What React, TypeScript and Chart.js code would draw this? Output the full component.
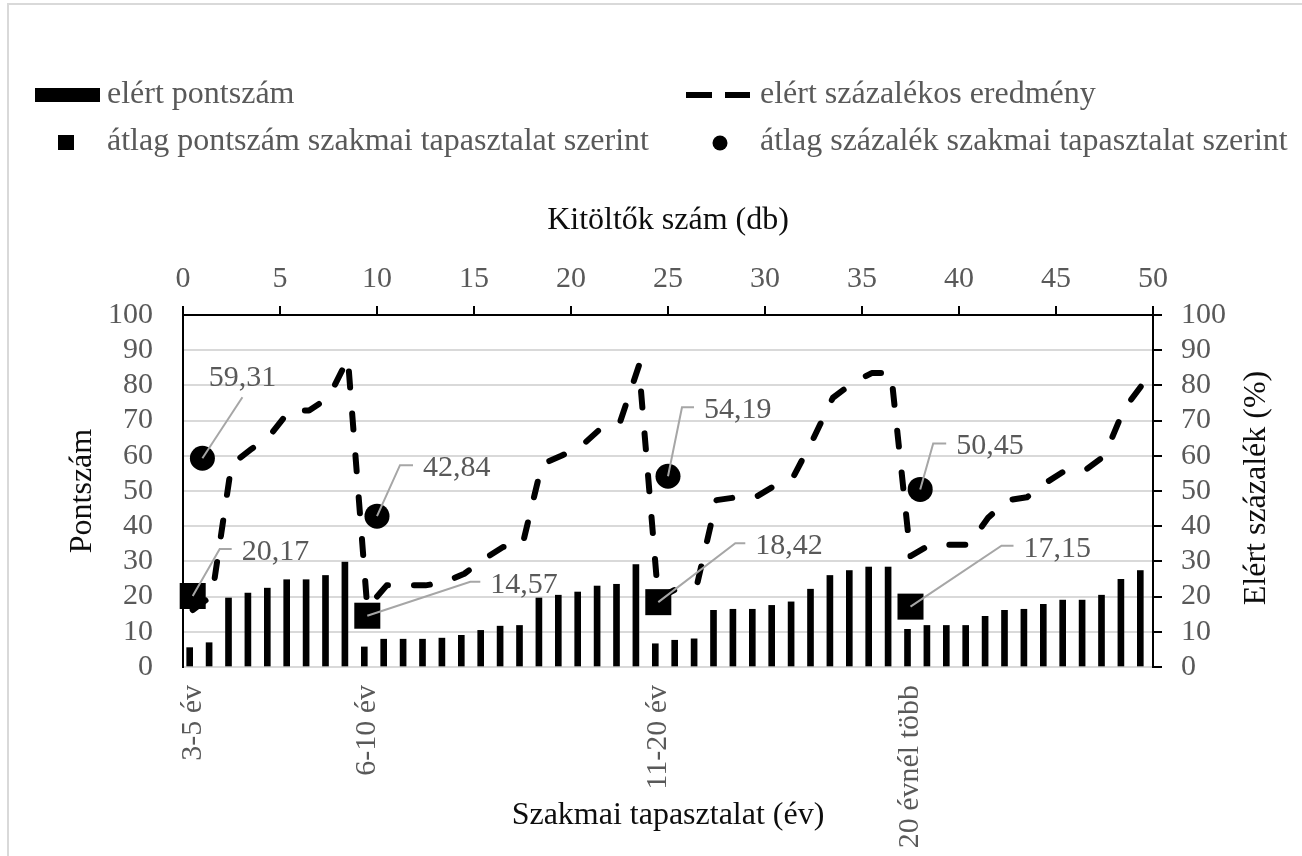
import React, { useEffect, useRef } from 'react';
import { Chart, registerables } from 'chart.js';

Chart.register(...registerables);

// ---------- data ----------
const groupLabels = ['3-5 év', '6-10 év', '11-20 év', '20 évnél több'];
const groupSizes = [9, 15, 13, 13];

// elért pontszám (one bar per respondent)
const points = [
  5.5, 6.9, 19.6, 21.0, 22.4, 24.8, 24.8, 26.0, 29.8,
  5.7, 7.9, 7.9, 7.9, 8.2, 9.0, 10.4, 11.6, 11.8, 19.6, 20.4, 21.3, 23.0, 23.5, 29.1,
  6.6, 7.6, 8.0, 16.1, 16.4, 16.4, 17.5, 18.5, 22.1, 26.0, 27.4, 28.4, 28.4,
  10.7, 11.8, 11.8, 11.8, 14.4, 16.1, 16.4, 17.8, 19.0, 19.0, 20.4, 24.9, 27.4,
];

// elért százalékos eredmény (%)
const percents = [
  16.2, 20.3, 57.6, 61.8, 65.9, 72.9, 72.9, 76.5, 87.6,
  16.8, 23.2, 23.2, 23.2, 24.1, 26.5, 30.6, 34.1, 34.7, 57.6, 60.0, 62.6, 67.6, 69.1, 85.6,
  19.4, 22.4, 23.5, 47.4, 48.2, 48.2, 51.5, 54.4, 65.0, 76.5, 80.6, 83.5, 83.5,
  31.5, 34.7, 34.7, 34.7, 42.4, 47.4, 48.2, 52.4, 55.9, 55.9, 60.0, 73.2, 80.6,
];

const avgPoints = [20.17, 14.57, 18.42, 17.15];
const avgPercents = [59.31, 42.84, 54.19, 50.45];
const avgPercentCount = [1, 10, 25, 38];

const legendLabels = [
  'elért pontszám',
  'elért százalékos eredmény',
  'átlag pontszám szakmai tapasztalat szerint',
  'átlag százalék szakmai tapasztalat szerint',
];
const rightAxisTitle = 'Elért százalék (%)';

// ---------- derived ----------
const categories: string[] = [];
const groupStarts: number[] = [];
groupLabels.forEach((g, i) => {
  groupStarts.push(categories.length);
  for (let k = 0; k < groupSizes[i]; k++) categories.push(k === 0 ? g : '');
});
const avgPointsSeries: (number | null)[] = categories.map(() => null);
groupStarts.forEach((s, i) => { avgPointsSeries[s] = avgPoints[i]; });
const avgPercentSeries = avgPercentCount.map((c, i) => ({ x: c, y: avgPercents[i] }));

// ---------- styles ----------
const FONT = 'Liberation Serif';
const GRAY_TEXT = '#595959';
const TITLE = '#0d0d0d';

// label leader offsets (pixels, relative to marker centre)
const circleLabelPos = [
  { ex: 40, ey: -61, h: 0, center: true, ty: -72 },
  { ex: 23, ey: -51, h: 13 },
  { ex: 14, ey: -69, h: 12 },
  { ex: 13, ey: -46, h: 13 },
];
const squareLabelPos = [
  { ex: 27, ey: -47, h: 12 },
  { ex: 103, ey: -34, h: 10 },
  { ex: 77, ey: -59, h: 10 },
  { ex: 91, ey: -61, h: 12 },
];

const fmt = (v: number) => v.toFixed(2).replace('.', ',');

const decorPlugin = {
  id: 'decor',
  beforeDraw(chart: any) {
    const ctx = chart.ctx;
    ctx.save();
    ctx.strokeStyle = '#d9d9d9';
    ctx.lineWidth = 2;
    ctx.strokeRect(8, 4, 1400, 900);
    ctx.restore();
  },
  afterDatasetsDraw(chart: any) {
    const ctx = chart.ctx;
    ctx.save();
    ctx.strokeStyle = '#a6a6a6';
    ctx.lineWidth = 2;
    ctx.fillStyle = GRAY_TEXT;
    ctx.font = `30px "${FONT}"`;
    ctx.textBaseline = 'alphabetic';
    const drawLabel = (px: number, py: number, pos: any, text: string) => {
      const ex = px + pos.ex;
      const ey = py + pos.ey;
      ctx.beginPath();
      ctx.moveTo(px, py);
      ctx.lineTo(ex, ey);
      if (pos.h) ctx.lineTo(ex + pos.h, ey);
      ctx.stroke();
      if (pos.center) {
        ctx.textAlign = 'center';
        ctx.fillText(text, ex, py + pos.ty);
      } else {
        ctx.textAlign = 'left';
        ctx.fillText(text, ex + pos.h + 10, ey + 11);
      }
    };
    const circMeta = chart.getDatasetMeta(3);
    circMeta.data.forEach((el: any, i: number) => {
      drawLabel(el.x, el.y, circleLabelPos[i], fmt(avgPercents[i]));
    });
    const sqMeta = chart.getDatasetMeta(2);
    groupStarts.forEach((s, i) => {
      const el = sqMeta.data[s];
      drawLabel(el.x, el.y, squareLabelPos[i], fmt(avgPoints[i]));
    });
    ctx.restore();
  },
  afterDraw(chart: any) {
    const ctx = chart.ctx;
    ctx.save();
    ctx.fillStyle = '#000';
    // bar sample
    ctx.fillRect(35, 88, 65, 14);
    // dashed line sample
    ctx.strokeStyle = '#000';
    ctx.lineWidth = 6;
    ctx.beginPath();
    ctx.moveTo(686, 95); ctx.lineTo(712, 95);
    ctx.moveTo(725, 95); ctx.lineTo(750, 95);
    ctx.stroke();
    // square sample
    ctx.fillRect(58, 135, 16, 15);
    // circle sample
    ctx.beginPath();
    ctx.arc(720, 143, 7.5, 0, Math.PI * 2);
    ctx.fill();
    ctx.fillStyle = GRAY_TEXT;
    ctx.font = `32px "${FONT}"`;
    ctx.textBaseline = 'alphabetic';
    ctx.textAlign = 'left';
    ctx.fillText(legendLabels[0], 107, 103);
    ctx.fillText(legendLabels[1], 760, 103);
    ctx.fillText(legendLabels[2], 107, 150);
    ctx.fillText(legendLabels[3], 760, 150);
    // right axis title, reading bottom-to-top
    const area = chart.chartArea;
    ctx.fillStyle = TITLE;
    ctx.translate(1257, (area.top + area.bottom) / 2 - 3);
    ctx.rotate(-Math.PI / 2);
    ctx.textAlign = 'center';
    ctx.textBaseline = 'middle';
    ctx.fillText(rightAxisTitle, 0, 0);
    ctx.restore();
  },
};

export default function App() {
  const ref = useRef<HTMLCanvasElement | null>(null);
  useEffect(() => {
    if (!ref.current) return;
    const tickFont = { family: FONT, size: 30, lineHeight: 1 };
    const titleFont = { family: FONT, size: 32, lineHeight: 1 };
    const chart = new Chart(ref.current, {
      type: 'bar',
      data: {
        labels: categories,
        datasets: [
          {
            type: 'bar',
            label: legendLabels[0],
            data: points,
            backgroundColor: '#000',
            barThickness: 6,
            xAxisID: 'x',
            yAxisID: 'y',
            order: 3,
          } as any,
          {
            type: 'line',
            label: legendLabels[1],
            data: percents,
            borderColor: '#000',
            borderWidth: 6,
            borderDash: [16, 26],
            borderCapStyle: 'round',
            borderJoinStyle: 'round',
            pointRadius: 0,
            tension: 0,
            fill: false,
            xAxisID: 'x',
            yAxisID: 'y2',
            order: 2,
          },
          {
            type: 'line',
            label: legendLabels[2],
            data: avgPointsSeries,
            showLine: false,
            pointStyle: 'rect',
            pointRadius: 18.4,
            pointBackgroundColor: '#000',
            pointBorderWidth: 0,
            xAxisID: 'x',
            yAxisID: 'y',
            clip: false,
            order: 1,
          },
          {
            type: 'line',
            label: legendLabels[3],
            data: avgPercentSeries,
            showLine: false,
            pointStyle: 'circle',
            pointRadius: 12.5,
            pointBackgroundColor: '#000',
            pointBorderWidth: 0,
            xAxisID: 'xTop',
            yAxisID: 'y2',
            clip: false,
            order: 0,
          },
        ],
      },
      options: {
        responsive: false,
        animation: false,
        devicePixelRatio: 1,
        layout: { padding: 0, autoPadding: false },
        plugins: { legend: { display: false }, tooltip: { enabled: false } },
        scales: {
          x: {
            type: 'category',
            position: 'bottom',
            offset: true,
            grid: { display: false, drawTicks: false },
            border: { display: false },
            ticks: {
              autoSkip: false,
              maxRotation: 90,
              minRotation: 90,
              padding: 18,
              color: GRAY_TEXT,
              font: tickFont,
            },
            title: {
              display: true,
              text: 'Szakmai tapasztalat (év)',
              color: TITLE,
              font: titleFont,
              padding: { top: 0, bottom: 24 },
            },
            afterFit: (s: any) => { s.height = 189; },
          },
          xTop: {
            type: 'linear',
            position: 'top',
            offset: false,
            min: 0,
            max: 50,
            grid: { offset: false, drawOnChartArea: false, drawTicks: true, tickLength: 9, color: '#000', lineWidth: 2 },
            border: { display: true, color: '#000', width: 2 },
            ticks: { stepSize: 5, padding: 12, color: GRAY_TEXT, font: tickFont },
            title: {
              display: true,
              text: 'Kitöltők szám (db)',
              color: TITLE,
              font: titleFont,
              padding: { top: 205, bottom: 0 },
            },
            afterFit: (s: any) => { s.height = 315; },
          },
          y: {
            type: 'linear',
            position: 'left',
            min: 0,
            max: 100,
            grid: { color: '#d9d9d9', lineWidth: 2, drawTicks: false },
            border: { display: true, color: '#000', width: 2 },
            ticks: { stepSize: 10, padding: 30, color: GRAY_TEXT, font: tickFont },
            title: {
              display: true,
              text: 'Pontszám',
              color: TITLE,
              font: titleFont,
              padding: { top: 67, bottom: 0 },
            },
            afterFit: (s: any) => { s.width = 183; },
          },
          y2: {
            type: 'linear',
            position: 'right',
            min: 0,
            max: 100,
            grid: { drawOnChartArea: false, drawTicks: true, tickLength: 9, color: '#000', lineWidth: 2 },
            border: { display: true, color: '#000', width: 2 },
            ticks: { stepSize: 10, padding: 19, color: GRAY_TEXT, font: tickFont },
            title: { display: false },
            afterFit: (s: any) => { s.width = 149; },
          },
        },
      } as any,
      plugins: [decorPlugin],
    });
    return () => chart.destroy();
  }, []);

  return (
    <div style={{ position: 'fixed', left: 0, top: 0, width: 1302, height: 856, background: '#fff' }}>
      <canvas ref={ref} width={1302} height={856} style={{ display: 'block' }} />
    </div>
  );
}
